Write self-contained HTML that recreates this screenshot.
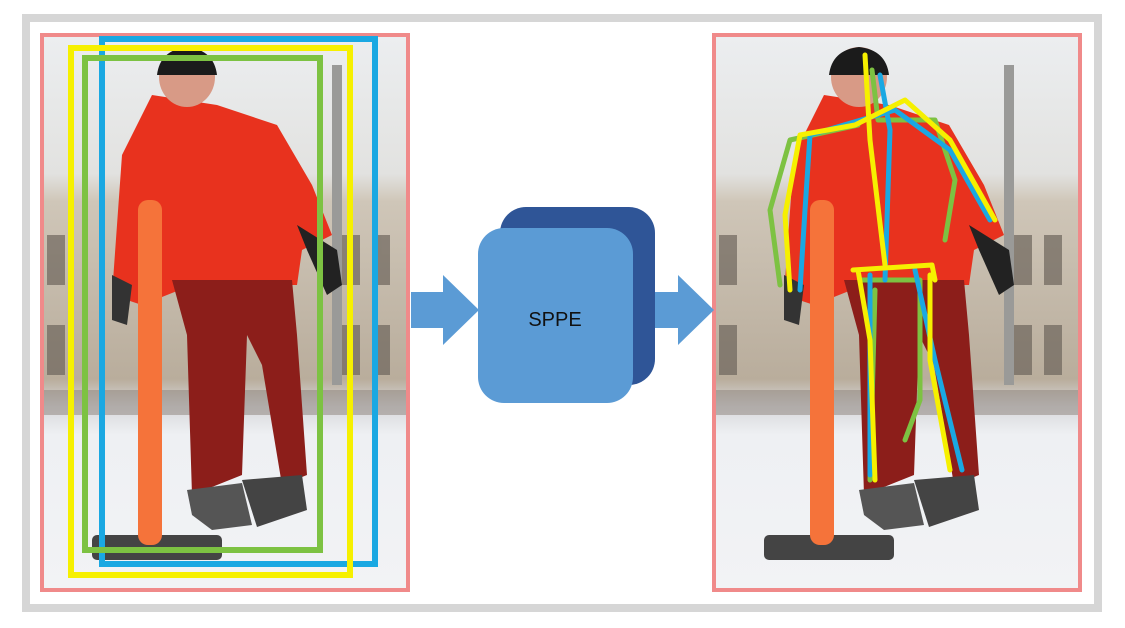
<!DOCTYPE html>
<html><head><meta charset="utf-8"><style>
html,body{margin:0;padding:0;background:#fff;width:1125px;height:628px;overflow:hidden}
</style></head><body>
<svg width="1125" height="628" viewBox="0 0 1125 628" xmlns="http://www.w3.org/2000/svg">
<defs>
<linearGradient id="sky" x1="0" y1="0" x2="0" y2="1">
<stop offset="0" stop-color="#eceef0"/><stop offset="0.25" stop-color="#e2e2e0"/>
<stop offset="0.3" stop-color="#cfc6b8"/><stop offset="0.62" stop-color="#b9ad9c"/>
<stop offset="0.67" stop-color="#d8d9dc"/><stop offset="0.72" stop-color="#eef0f3"/><stop offset="1" stop-color="#f2f3f5"/>
</linearGradient>
<clipPath id="cp"><rect x="0" y="0" width="366" height="555"/></clipPath>
<g id="photo">
<g clip-path="url(#cp)">
<rect x="0" y="0" width="366" height="555" fill="url(#sky)"/>
<g fill="#6d655c" opacity="0.7">
<rect x="5" y="200" width="18" height="50"/><rect x="300" y="200" width="18" height="50"/>
<rect x="330" y="200" width="18" height="50"/><rect x="5" y="290" width="18" height="50"/>
<rect x="300" y="290" width="18" height="50"/><rect x="330" y="290" width="18" height="50"/>
</g>
<rect x="290" y="30" width="10" height="320" fill="#9a9a98"/>
<rect x="0" y="355" width="366" height="25" fill="#8a8078" opacity="0.5"/>
<path d="M110 60 L175 70 L235 90 L270 150 L290 200 L260 215 L255 250 L150 250 L100 270 L70 260 L80 120 Z" fill="#e8321e"/>
<path d="M255 190 L295 215 L300 250 L285 260 L265 215 Z" fill="#222"/>
<path d="M70 240 L90 250 L85 290 L70 285 Z" fill="#333"/>
<path d="M130 245 L250 245 L255 300 L265 440 L240 450 L220 330 L205 300 L200 440 L150 460 L145 300 Z" fill="#8c1e1a"/>
<ellipse cx="145" cy="42" rx="28" ry="30" fill="#d89a86"/>
<path d="M115 40 Q118 15 145 12 Q172 15 175 40 Z" fill="#1b1b1b"/>
<path d="M145 455 L200 448 L210 490 L170 495 L150 480 Z" fill="#555"/>
<path d="M200 445 L260 440 L265 475 L215 492 Z" fill="#444"/>
<rect x="50" y="500" width="130" height="25" rx="5" fill="#444"/>
<rect x="96" y="165" width="24" height="345" rx="10" fill="#f5733a"/>
</g>
</g>
</defs>
<rect x="26" y="18" width="1072" height="590" fill="#fff" stroke="#d6d6d6" stroke-width="8"/>
<use href="#photo" x="42" y="35"/>
<rect x="42" y="35" width="366" height="555" fill="none" stroke="#f08a8a" stroke-width="4"/>
<rect x="102" y="39" width="273" height="525" fill="none" stroke="#1aa8e2" stroke-width="6"/>
<rect x="71" y="48" width="279" height="527" fill="none" stroke="#f6f000" stroke-width="6"/>
<rect x="85" y="58" width="235" height="492" fill="none" stroke="#7dc242" stroke-width="6"/>
<use href="#photo" x="714" y="35"/>
<rect x="714" y="35" width="366" height="555" fill="none" stroke="#f08a8a" stroke-width="4"/>
<g fill="none" stroke-width="5" stroke-linejoin="round" stroke-linecap="round">
<path d="M872,70 L878,120 M858,125 L790,140 L770,210 L780,285 M878,120 L935,120 L955,180 L945,240" stroke="#7dc242"/>
<path d="M860,280 L920,280 M875,290 L870,480 M920,280 L920,400 L905,440" stroke="#7dc242"/>
<path d="M880,75 L890,130 L885,280 M895,110 L810,135 L805,210 L800,290 M895,110 L950,150 L990,220" stroke="#1aa8e2"/>
<path d="M870,275 L870,475 M915,270 L935,360 L962,470" stroke="#1aa8e2"/>
<path d="M865,55 L870,140 L885,265 M790,290 L785,215 L800,135 L855,125 L905,100 L950,140 L995,220" stroke="#f6f000"/>
<path d="M853,270 L932,265 L935,280 M858,270 L870,340 L875,480 M930,275 L930,360 L950,470" stroke="#f6f000"/>
</g>
<polygon points="411,292 443,292 443,275 479,310 443,345 443,328 411,328" fill="#5b9bd5"/>
<polygon points="646,292 678,292 678,275 714,310 678,345 678,328 646,328" fill="#5b9bd5"/>
<rect x="500" y="207" width="155" height="178" rx="26" fill="#2f5597"/>
<rect x="478" y="228" width="155" height="175" rx="26" fill="#5b9bd5"/>
<text x="555" y="326" text-anchor="middle" font-family="Liberation Sans, sans-serif" font-size="20" fill="#111">SPPE</text>
</svg>
</body></html>
